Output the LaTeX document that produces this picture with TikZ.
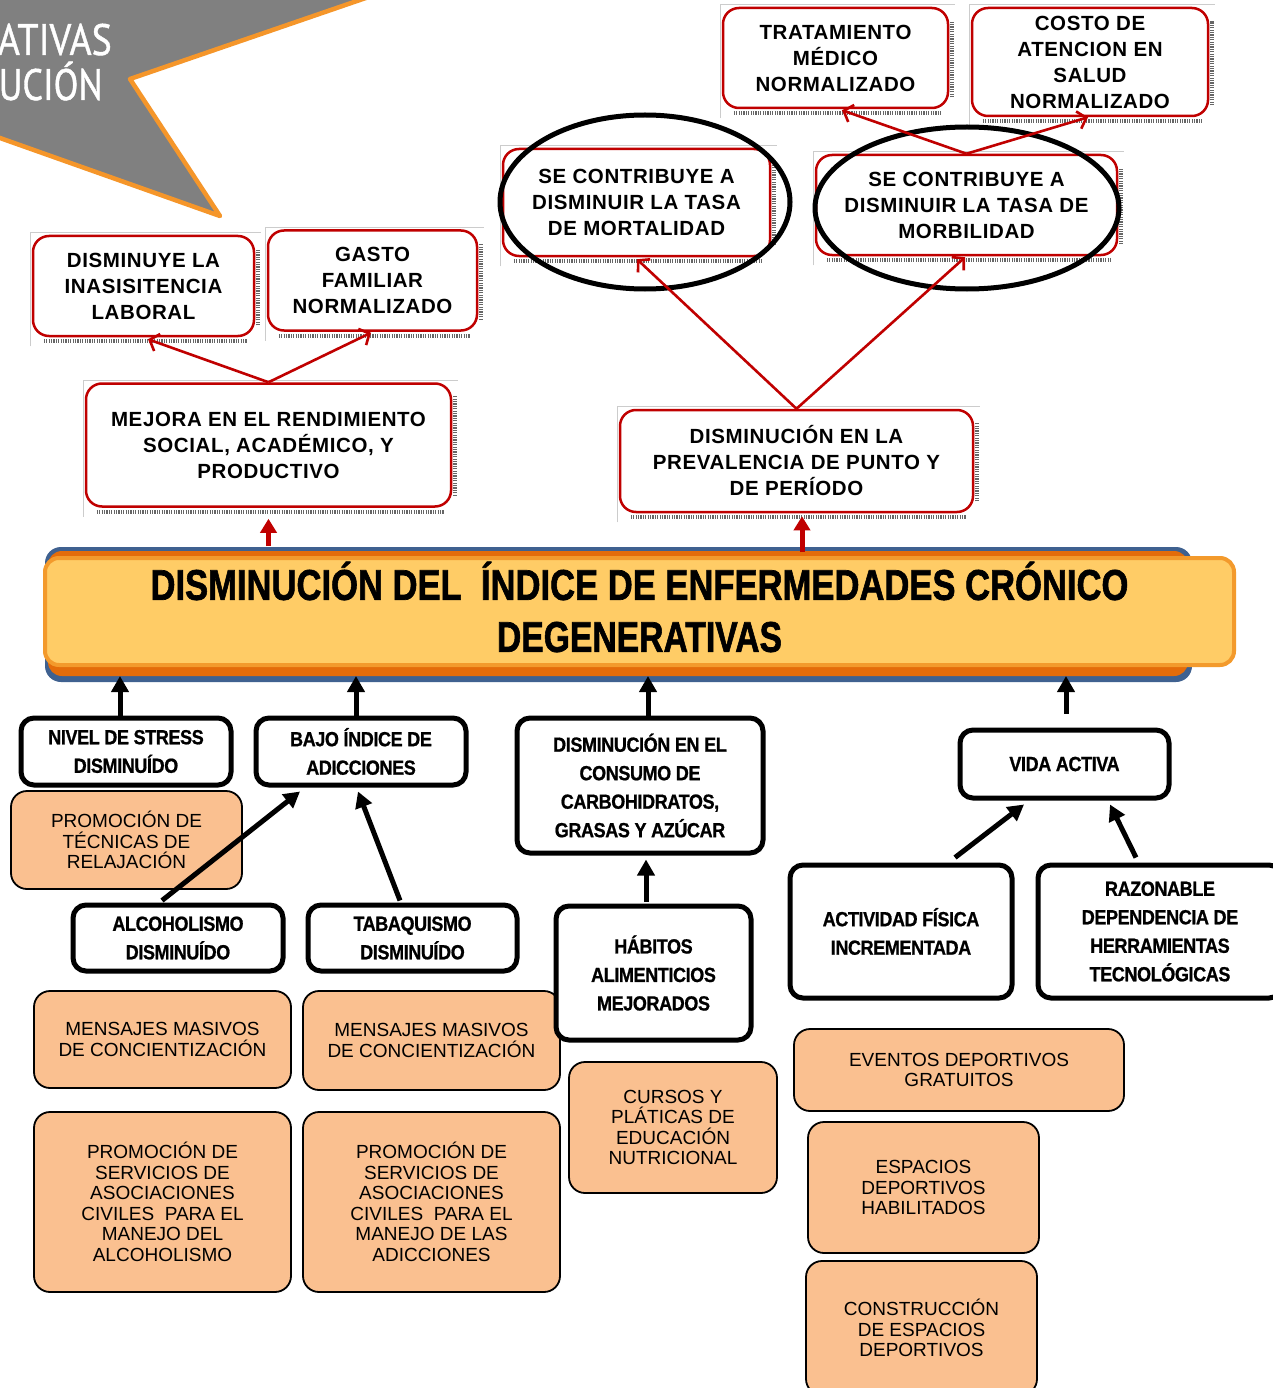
\documentclass[tikz,border=0pt]{standalone}
\usepackage{fontspec}
\usepackage{graphicx}
\setmainfont{Liberation Sans}
\newfontfamily\bannerfont[FakeBold=1.0]{PT Sans}
\newfontfamily\condfont[FakeStretch=0.88,LetterSpace=-2,BoldFeatures={FakeBold=0.8}]{Liberation Sans}
\newfontfamily\titlefont[BoldFeatures={FakeBold=1.6}]{Liberation Sans}
\newfontfamily\redfont[LetterSpace=3]{Liberation Sans}
\usetikzlibrary{arrows.meta,calc,shapes.geometric}
\pgfdeclarelayer{bg}
\pgfsetlayers{bg,main}

\definecolor{boxred}{HTML}{C00000}
\definecolor{peach}{HTML}{FAC090}
\definecolor{baryellow}{HTML}{FFCC66}
\definecolor{barborder}{HTML}{F39A2C}
\definecolor{barorange}{HTML}{E46C0A}
\definecolor{barblue}{HTML}{3F6190}
\definecolor{bannergray}{HTML}{808080}
\definecolor{bannerline}{HTML}{F5962A}

\tikzset{
  redbox/.style={draw=boxred, line width=2.5pt, fill=white, rounded corners=16pt,
    inner sep=0pt, align=center, font=\redfont\bfseries\fontsize{20.5}{26}\selectfont},
  blackbox/.style={draw=black, line width=5pt, fill=white, rounded corners=13pt,
    inner sep=0pt, align=center, font=\condfont\bfseries\fontsize{20.5}{28.5}\selectfont},
  peachbox/.style={draw=black, line width=1.8pt, fill=peach, rounded corners=16pt,
    inner sep=0pt, align=center, font=\fontsize{19}{20.5}\selectfont},
  redlink/.style={draw=boxred, line width=2.6pt,
    -{Straight Barb[length=8pt,width=18pt,line width=2.6pt]}},
  redup/.style={draw=boxred, line width=5pt, -{Triangle[length=14pt,width=16pt]}},
  blkarrow/.style={draw=black, line width=5pt, -{Triangle[length=16pt,width=17pt]}},
  ring/.style={ellipse, draw=black, line width=5pt, inner sep=0pt},
  shadowstrip/.style={draw=black!60, line width=4pt, dash pattern=on 1.2pt off 1.2pt},
  frameline/.style={draw=black!20, line width=0.7pt},
  bannertext/.style={anchor=base east, text=white, inner sep=0pt,
    font=\bannerfont\fontsize{44}{44}\selectfont},
}

% dotted drop shadow and thin frame behind a red box
\newcommand\boxshade[1]{%
  \begin{pgfonlayer}{bg}
    \draw[shadowstrip] ([xshift=12pt,yshift=-4pt]#1.south west) -- ([xshift=-8pt,yshift=-4pt]#1.south east);
    \draw[shadowstrip] ([xshift=3pt,yshift=12pt]#1.south east) -- ([xshift=3pt,yshift=-14pt]#1.north east);
    \draw[frameline] ([xshift=-1.5pt,yshift=-9pt]#1.south west) -- ([xshift=-1.5pt,yshift=2pt]#1.north west)
      -- ([xshift=6pt,yshift=2pt]#1.north east);
  \end{pgfonlayer}}

\begin{document}
\begin{tikzpicture}[x=1pt,y=-1pt]
\useasboundingbox (0,0) rectangle (1273,1388);
\begin{pgfonlayer}{bg}
  \fill[white] (0,0) rectangle (1273,1388);
\end{pgfonlayer}
\clip (0,0) rectangle (1273,1388);

% banner in the upper left corner
\draw[fill=bannergray, draw=bannerline, line width=4.5pt, line join=round]
  (-20,-10) -- (389,-10) -- (130,79) -- (220,216) -- (0,138) -- (-20,131) -- cycle;
\node[bannertext] (ban1) at (112,55) {\resizebox{114pt}{\height}{ATIVAS}};
\node[bannertext] (ban2) at (103,100) {\resizebox{104pt}{\height}{UCIÓN}};

% upper outcome boxes
\node[redbox, minimum width=225pt, minimum height=100pt] (trat) at (835.5,58) {TRATAMIENTO\\MÉDICO\\NORMALIZADO};
\node[redbox, minimum width=236pt, minimum height=108pt] (costo) at (1090,62) {COSTO DE\\ATENCION EN\\SALUD\\NORMALIZADO};
\node[redbox, minimum width=267pt, minimum height=107pt] (mort) at (636.5,202.5) {SE CONTRIBUYE A\\DISMINUIR LA TASA\\DE MORTALIDAD};
\node[redbox, minimum width=301pt, minimum height=100pt] (morb) at (966.5,205) {SE CONTRIBUYE A\\DISMINUIR LA TASA DE\\MORBILIDAD};
\node[redbox, minimum width=221pt, minimum height=100pt] (inas) at (143.5,286) {DISMINUYE LA\\INASISITENCIA\\LABORAL};
\node[redbox, minimum width=209pt, minimum height=100pt] (gasto) at (372.5,280.5) {GASTO\\FAMILIAR\\NORMALIZADO};
\node[redbox, minimum width=365pt, minimum height=123pt] (mejora) at (268.5,445) {MEJORA EN EL RENDIMIENTO\\SOCIAL, ACADÉMICO, Y\\PRODUCTIVO};
\node[redbox, minimum width=353pt, minimum height=102pt] (prev) at (796.5,461) {DISMINUCIÓN EN LA\\PREVALENCIA DE PUNTO Y\\DE PERÍODO};
\foreach \b in {trat,costo,mort,morb,inas,gasto,mejora,prev} {\boxshade{\b}}

% rings around the two rate boxes
\node[ring, minimum width=290pt, minimum height=174pt] (ringA) at (645,202) {};
\node[ring, minimum width=304pt, minimum height=162pt] (ringB) at (967,208) {};

% red links between the outcome boxes
\draw[redlink] (mejora.north) -- ($(inas.south)+(4.5,2)$);
\draw[redlink] (mejora.north) -- ($(gasto.south)+(-1.5,1)$);
\draw[redlink] (prev.north) -- ($(mort.south)+(0.5,2)$);
\draw[redlink] (prev.north) -- ($(morb.south)+(-1.5,1)$);
\draw[redlink] (morb.north) -- ($(trat.south)+(6.5,1)$);
\draw[redlink] (morb.north) -- ($(costo.south)+(-2,0)$);

% central bar
\fill[barblue, rounded corners=16pt] (45,547) rectangle (1192,682);
\fill[barorange, rounded corners=14pt] (48,551) rectangle (1188,676);
\node[draw=barborder, line width=4pt, fill=baryellow, rounded corners=14pt,
  minimum width=1189pt, minimum height=107pt, inner sep=0pt] (bar) at (639.5,611.5) {};
\node[align=center, inner sep=0pt, font=\titlefont\bfseries\fontsize{43}{52}\selectfont] (title) at (639.5,607)
  {\resizebox{978pt}{\height}{DISMINUCIÓN DEL~ ÍNDICE DE ENFERMEDADES CRÓNICO}\\
   \resizebox{285pt}{\height}{DEGENERATIVAS}};

\draw[redup] ($(mejora.south |- bar.north)+(0,-10)$) -- ($(mejora.south)+(0,11)$);
\draw[redup] ($(prev.south |- bar.north)+(5.5,-4)$) -- ($(prev.south)+(5.5,3)$);

% action boxes
\node[peachbox, minimum width=231pt, minimum height=98pt] (relaj) at (126.5,840) {PROMOCIÓN DE\\TÉCNICAS DE\\RELAJACIÓN};
\node[peachbox, minimum width=257pt, minimum height=97pt] (mens1) at (162.5,1039.5) {MENSAJES MASIVOS\\DE CONCIENTIZACIÓN};
\node[peachbox, minimum width=257pt, minimum height=99pt] (mens2) at (431.5,1040.5) {MENSAJES MASIVOS\\DE CONCIENTIZACIÓN};
\node[peachbox, minimum width=257pt, minimum height=180pt] (asoc1) at (162.5,1202) {PROMOCIÓN DE\\SERVICIOS DE\\ASOCIACIONES\\CIVILES~ PARA EL\\MANEJO DEL\\ALCOHOLISMO};
\node[peachbox, minimum width=257pt, minimum height=180pt] (asoc2) at (431.5,1202) {PROMOCIÓN DE\\SERVICIOS DE\\ASOCIACIONES\\CIVILES~ PARA EL\\MANEJO DE LAS\\ADICCIONES};
\node[peachbox, minimum width=208pt, minimum height=131pt] (cursos) at (673,1127.5) {CURSOS Y\\PLÁTICAS DE\\EDUCACIÓN\\NUTRICIONAL};
\node[peachbox, minimum width=330pt, minimum height=82pt] (eventos) at (959,1070) {EVENTOS DEPORTIVOS\\GRATUITOS};
\node[peachbox, minimum width=231pt, minimum height=131pt] (espacios) at (923.5,1187.5) {ESPACIOS\\DEPORTIVOS\\HABILITADOS};
\node[peachbox, minimum width=231pt, minimum height=134pt] (constr) at (921.5,1328) {CONSTRUCCIÓN\\DE ESPACIOS\\DEPORTIVOS};

% cause boxes
\node[blackbox, minimum width=210pt, minimum height=67pt] (stress) at (126,751.5) {NIVEL DE STRESS\\DISMINUÍDO};
\node[blackbox, minimum width=210pt, minimum height=67pt] (adic) at (361,751.5) {BAJO ÍNDICE DE\\ADICCIONES};
\node[blackbox, minimum width=246pt, minimum height=135pt] (carbo) at (640,785.5) {DISMINUCIÓN EN EL\\CONSUMO DE\\CARBOHIDRATOS,\\GRASAS Y AZÚCAR};
\node[blackbox, minimum width=209pt, minimum height=68pt] (vida) at (1064.5,764) {VIDA ACTIVA};
\node[blackbox, minimum width=210pt, minimum height=66pt] (alco) at (178,938) {ALCOHOLISMO\\DISMINUÍDO};
\node[blackbox, minimum width=209pt, minimum height=66pt] (taba) at (412.5,938) {TABAQUISMO\\DISMINUÍDO};
\node[blackbox, minimum width=195pt, minimum height=134pt] (habitos) at (653.5,973) {HÁBITOS\\ALIMENTICIOS\\MEJORADOS};
\node[blackbox, minimum width=222pt, minimum height=133pt] (actividad) at (901,931.5) {ACTIVIDAD FÍSICA\\INCREMENTADA};
\node[blackbox, minimum width=244pt, minimum height=133pt] (razon) at (1160,931.5) {RAZONABLE\\DEPENDENCIA DE\\HERRAMIENTAS\\TECNOLÓGICAS};

% black arrows into the bar and between the cause boxes
\draw[blkarrow] ($(stress.north)+(-6,0)$) -- ($(stress.north |- bar.south)+(-6,9)$);
\draw[blkarrow] ($(adic.north)+(-5,0)$) -- ($(adic.north |- bar.south)+(-5,9)$);
\draw[blkarrow] ($(carbo.north)+(8,0)$) -- ($(carbo.north |- bar.south)+(8,9)$);
\draw[blkarrow] ($(vida.north)+(1.5,-14)$) -- ($(vida.north |- bar.south)+(1.5,9)$);
\draw[blkarrow] ($(alco.north)+(-16,-2)$) -- ($(adic.south)+(-61,4)$);
\draw[blkarrow] ($(taba.north)+(-12.5,-2)$) -- ($(adic.south)+(-3,4)$);
\draw[blkarrow] ($(habitos.north)+(-7.5,-2)$) -- ($(carbo.south)+(6,4)$);
\draw[blkarrow] ($(actividad.north)+(54,-5)$) -- ($(vida.south)+(-40.5,4)$);
\draw[blkarrow] ($(razon.north)+(-24,-5)$) -- ($(vida.south)+(45.5,4)$);
\end{tikzpicture}
\end{document}
